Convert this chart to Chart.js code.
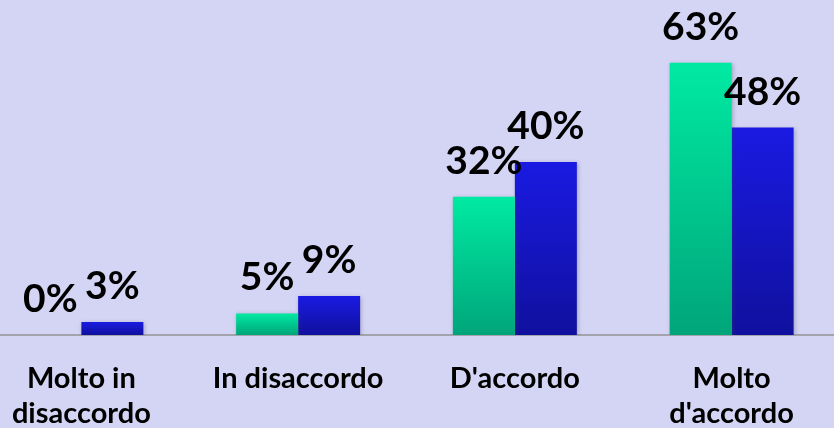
<!DOCTYPE html>
<html>
<head>
<meta charset="utf-8">
<script src="https://cdn.jsdelivr.net/npm/chart.js@4.4.1/dist/chart.umd.min.js"></script>
<style>
    html, body { margin: 0; padding: 0; background: #d4d4f4; overflow: hidden; }
    #wrap { position: absolute; left: -27px; top: 0; width: 867px; height: 428px; }
</style>
</head>
<body>
<div id="wrap"><canvas id="chart"></canvas></div>
<script>
const categories = [["Molto in", "disaccordo"], "In disaccordo", "D'accordo", ["Molto", "d'accordo"]];
const seriesGreen = [0, 5, 32, 63];
const seriesBlue = [3, 9, 40, 48];

function barGradient(context, top, bottom) {
    const chart = context.chart;
    const y = chart.scales.y;
    if (!chart.chartArea || !y) return top;
    const v = context.raw || 0;
    const y0 = y.getPixelForValue(v);
    const y1 = y.getPixelForValue(0);
    if (y1 - y0 < 1) return top;
    const g = chart.ctx.createLinearGradient(0, y0, 0, y1);
    g.addColorStop(0, top);
    g.addColorStop(1, bottom);
    return g;
}

/* soft shadow behind the bars */
const barShadow = {
    id: "barShadow",
    beforeDatasetsDraw(chart) {
        const ctx = chart.ctx;
        ctx.save();
        ctx.shadowColor = "rgba(60, 60, 90, 0.35)";
        ctx.shadowBlur = 4;
        ctx.shadowOffsetX = 1;
        ctx.shadowOffsetY = 1;
    },
    afterDatasetsDraw(chart) {
        chart.ctx.restore();
    }
};

/* draw the value labels above each bar */
const valueLabels = {
    id: "valueLabels",
    afterDatasetsDraw(chart) {
        const ctx = chart.ctx;
        ctx.save();
        ctx.font = "bold 39px Lato";
        ctx.fillStyle = "#000";
        ctx.textAlign = "center";
        ctx.textBaseline = "alphabetic";
        chart.data.datasets.forEach((ds, i) => {
            chart.getDatasetMeta(i).data.forEach((bar, j) => {
                ctx.fillText(ds.data[j] + "%", bar.x, bar.y - 23);
            });
        });
        ctx.restore();
    }
};

new Chart(document.getElementById("chart"), {
    type: "bar",
    data: {
        labels: categories,
        datasets: [{
            data: seriesGreen,
            backgroundColor: (c) => barGradient(c, "#00eaa2", "#00a57a"),
            categoryPercentage: 0.572,
            barPercentage: 1
        }, {
            data: seriesBlue,
            backgroundColor: (c) => barGradient(c, "#1a1ae2", "#10109e"),
            categoryPercentage: 0.572,
            barPercentage: 1
        }]
    },
    options: {
        responsive: true,
        maintainAspectRatio: false,
        animation: false,
        layout: { padding: 0 },
        plugins: {
            legend: { display: false },
            tooltip: { enabled: false }
        },
        scales: {
            x: {
                grid: { display: false, drawTicks: false },
                border: { color: "#a3a3ab", width: 2 },
                afterFit: (scale) => { scale.height = 93; },
                ticks: {
                    color: "#000",
                    font: { family: "Lato", weight: "bold", size: 29, lineHeight: 1.2 },
                    padding: 26,
                    maxRotation: 0,
                    autoSkip: false
                }
            },
            y: {
                display: false,
                min: 0,
                max: 77.5
            }
        }
    },
    plugins: [barShadow, valueLabels]
});
</script>
</body>
</html>
